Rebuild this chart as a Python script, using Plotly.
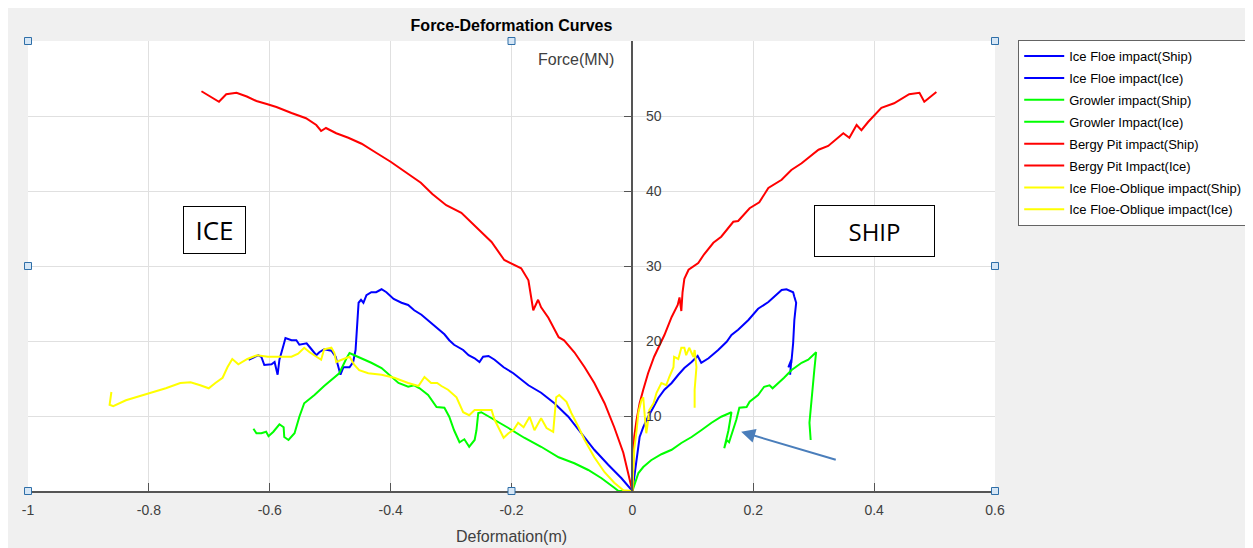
import plotly.graph_objects as go

# ---- data (deformation in m, force in MN) ----
ice_floe_ship_x = [0, 0.007, 0.012, 0.018, 0.026, 0.035, 0.043, 0.053, 0.065, 0.076, 0.086, 0.098,
                   0.108, 0.114, 0.126, 0.142, 0.156, 0.164, 0.175, 0.192, 0.208, 0.225, 0.235,
                   0.247, 0.255, 0.266, 0.268, 0.271, 0.268, 0.266, 0.263, 0.258, 0.263, 0.261]
ice_floe_ship_y = [0, 4.5, 7.2, 8.5, 9.9, 11.2, 12.4, 13.5, 14.4, 15.5, 16.4, 17.2,
                   18.0, 17.1, 17.7, 18.8, 19.9, 20.8, 21.5, 22.8, 24.3, 25.2, 25.9,
                   26.8, 26.9, 26.5, 25.9, 25.1, 22.8, 19.7, 17.1, 16.5, 17.5, 15.5]

ice_floe_ice_x = [-0.635, -0.619, -0.614, -0.609, -0.597, -0.592, -0.587, -0.584, -0.577, -0.574,
                  -0.564, -0.556, -0.551, -0.539, -0.534, -0.523, -0.518, -0.510, -0.498, -0.491,
                  -0.486, -0.483, -0.478, -0.468, -0.462, -0.458, -0.453, -0.449, -0.445, -0.440,
                  -0.432, -0.424, -0.415, -0.407, -0.395, -0.382, -0.371, -0.361, -0.349, -0.333,
                  -0.321, -0.311, -0.303, -0.295, -0.280, -0.271, -0.261, -0.253, -0.247, -0.238,
                  -0.228, -0.213, -0.197, -0.172, -0.151, -0.129, -0.106, -0.084, -0.063, -0.040,
                  -0.018, 0]
ice_floe_ice_y = [17.5, 18.1, 17.9, 16.8, 16.9, 17.2, 15.5, 17.5, 19.5, 20.4,
                  20.1, 20.1, 19.5, 19.7, 19.2, 18.1, 18.5, 18.9, 18.7, 17.9,
                  16.4, 15.5, 16.5, 16.5, 17.2, 18.8, 25.1, 25.5, 25.1, 26.1,
                  26.5, 26.5, 26.9, 26.5, 25.6, 25.1, 24.8, 24.1, 23.5, 22.4,
                  21.7, 20.9, 20.1, 19.5, 18.8, 18.1, 17.7, 17.2, 17.9, 18.0,
                  17.5, 16.5, 15.7, 14.1, 13.1, 11.7, 9.9, 7.7, 5.5, 3.5,
                  1.7, 0]

growler_ship_x = [0, 0.010, 0.018, 0.031, 0.048, 0.065, 0.081, 0.098, 0.114, 0.131, 0.147, 0.164,
                  0.159, 0.152, 0.156, 0.160, 0.167, 0.172, 0.177, 0.189, 0.194, 0.208, 0.218,
                  0.227, 0.232, 0.242, 0.251, 0.263, 0.280, 0.291, 0.304, 0.301, 0.296, 0.293,
                  0.295]
growler_ship_y = [0, 2.4, 3.2, 4.1, 4.9, 5.5, 6.4, 7.2, 8.1, 9.1, 9.9, 10.5,
                  8.1, 5.7, 6.8, 6.5, 8.1, 9.5, 11.1, 11.2, 11.9, 12.8, 13.9,
                  14.1, 13.7, 14.4, 15.1, 16.1, 17.1, 17.5, 18.5, 16.1, 11.7, 9.1,
                  6.8]

growler_ice_x = [-0.627, -0.622, -0.614, -0.606, -0.602, -0.594, -0.584, -0.577, -0.576, -0.569,
                 -0.559, -0.551, -0.543, -0.526, -0.510, -0.495, -0.485, -0.473, -0.468, -0.460,
                 -0.448, -0.432, -0.415, -0.402, -0.387, -0.371, -0.361, -0.352, -0.338, -0.324,
                 -0.311, -0.303, -0.295, -0.286, -0.278, -0.270, -0.261, -0.258, -0.255, -0.250,
                 -0.228, -0.205, -0.179, -0.151, -0.122, -0.096, -0.073, -0.051, -0.031, -0.023, 0]
growler_ice_y = [8.3, 7.7, 7.7, 7.9, 7.3, 7.9, 8.9, 8.5, 7.2, 6.8,
                 7.7, 9.9, 11.7, 12.8, 14.0, 15.1, 15.7, 17.7, 18.4, 18.1,
                 17.7, 17.1, 16.4, 15.5, 14.4, 13.9, 14.1, 13.7, 12.8, 11.2,
                 11.1, 9.9, 8.1, 6.5, 6.9, 5.9, 6.8, 8.1, 10.4, 10.5,
                 9.5, 8.4, 7.1, 5.9, 4.5, 3.7, 2.8, 1.7, 0.5, 0, 0]

bergy_ship_x = [0, 0.003, 0.007, 0.012, 0.018, 0.026, 0.036, 0.048, 0.053, 0.065, 0.075, 0.078,
                0.081, 0.083, 0.086, 0.093, 0.109, 0.119, 0.134, 0.147, 0.167, 0.175, 0.194,
                0.210, 0.225, 0.247, 0.263, 0.280, 0.308, 0.324, 0.349, 0.359, 0.371, 0.379,
                0.390, 0.412, 0.433, 0.458, 0.475, 0.483, 0.503]
bergy_ship_y = [0, 7.2, 9.5, 11.7, 13.5, 15.7, 17.9, 19.9, 20.8, 23.2, 24.8, 25.8,
                24.0, 26.5, 28.3, 29.5, 30.4, 31.6, 33.1, 33.9, 35.9, 36.0, 37.7,
                38.5, 40.4, 41.5, 42.8, 43.7, 45.5, 46.0, 47.7, 47.1, 48.8, 48.1,
                49.2, 51.1, 51.7, 52.9, 53.1, 51.9, 53.2]

bergy_ice_x = [-0.713, -0.697, -0.684, -0.672, -0.655, -0.638, -0.622, -0.605, -0.589, -0.564,
               -0.540, -0.523, -0.515, -0.507, -0.490, -0.470, -0.448, -0.424, -0.400, -0.375,
               -0.350, -0.331, -0.308, -0.283, -0.258, -0.233, -0.212, -0.184, -0.172, -0.164,
               -0.156, -0.151, -0.139, -0.122, -0.113, -0.096, -0.079, -0.063, -0.046, -0.030,
               -0.015, -0.005, 0]
bergy_ice_y = [53.3, 52.5, 51.9, 52.9, 53.1, 52.6, 52.0, 51.6, 51.2, 50.4,
               49.7, 48.8, 48.0, 48.4, 47.7, 47.1, 46.3, 45.1, 43.9, 42.5,
               41.1, 39.6, 38.1, 37.1, 35.2, 33.2, 30.8, 29.7, 28.1, 24.1,
               25.5, 24.5, 23.1, 20.5, 20.1, 18.5, 16.5, 14.4, 11.7, 8.5,
               5.1, 1.5, 0]

oblique_ship_x = [0, 0.002, 0.003, 0.007, 0.010, 0.015, 0.018, 0.020, 0.023, 0.025, 0.028, 0.035,
                  0.040, 0.048, 0.056, 0.061, 0.068, 0.069, 0.076, 0.081, 0.086, 0.089, 0.094,
                  0.101, 0.103, 0.106, 0.103, 0.103]
oblique_ship_y = [0, 2.8, 5.5, 8.1, 10.5, 12.1, 12.5, 10.5, 7.7, 8.8, 10.8, 11.7,
                  13.1, 14.4, 14.1, 15.2, 16.5, 17.9, 17.6, 19.1, 19.1, 18.1, 19.1,
                  17.9, 18.8, 16.5, 13.5, 11.1]

oblique_ice_x = [-0.862, -0.865, -0.859, -0.838, -0.805, -0.772, -0.748, -0.731, -0.715, -0.701,
                 -0.690, -0.678, -0.670, -0.662, -0.652, -0.637, -0.621, -0.603, -0.581, -0.564,
                 -0.553, -0.543, -0.534, -0.515, -0.510, -0.498, -0.493, -0.490, -0.481, -0.473,
                 -0.468, -0.460, -0.452, -0.437, -0.415, -0.394, -0.371, -0.354, -0.344, -0.333,
                 -0.323, -0.316, -0.305, -0.291, -0.280, -0.270, -0.261, -0.233, -0.228, -0.213,
                 -0.205, -0.197, -0.189, -0.180, -0.170, -0.162, -0.151, -0.142, -0.131, -0.126,
                 -0.121, -0.109, -0.101, -0.089, -0.079, -0.063, -0.046, -0.030, -0.015, 0]
oblique_ice_y = [13.2, 11.5, 11.3, 12.1, 12.9, 13.7, 14.4, 14.5, 14.1, 13.7,
                 14.4, 15.1, 16.5, 17.6, 16.9, 17.6, 18.1, 17.9, 17.9, 17.9,
                 18.3, 19.1, 18.5, 17.5, 18.9, 19.1, 18.4, 17.2, 17.5, 17.7,
                 17.9, 16.8, 16.1, 15.7, 15.5, 15.1, 14.4, 14.0, 15.2, 14.4,
                 14.4, 14.0, 13.5, 12.5, 10.5, 10.1, 10.8, 10.8, 9.5, 7.1,
                 7.7, 8.1, 9.1, 8.5, 9.9, 8.1, 9.7, 8.4, 7.9, 12.5,
                 12.8, 11.9, 10.4, 8.5, 6.8, 4.5, 2.5, 1.1, 0.1, 0]

x_ticks = [-1, -0.8, -0.6, -0.4, -0.2, 0, 0.2, 0.4, 0.6]
x_tick_labels = ["-1", "-0.8", "-0.6", "-0.4", "-0.2", "0", "0.2", "0.4", "0.6"]
y_ticks = [10, 20, 30, 40, 50, 60]
y_tick_labels = ["10", "20", "30", "40", "50", ""]

series = [
    ("Ice Floe impact(Ship)", ice_floe_ship_x, ice_floe_ship_y, "#0000ff"),
    ("Ice Floe impact(Ice)", ice_floe_ice_x, ice_floe_ice_y, "#0000ff"),
    ("Growler impact(Ship)", growler_ship_x, growler_ship_y, "#00ff00"),
    ("Growler Impact(Ice)", growler_ice_x, growler_ice_y, "#00ff00"),
    ("Bergy Pit impact(Ship)", bergy_ship_x, bergy_ship_y, "#ff0000"),
    ("Bergy Pit Impact(Ice)", bergy_ice_x, bergy_ice_y, "#ff0000"),
    ("Ice Floe-Oblique impact(Ship)", oblique_ship_x, oblique_ship_y, "#ffff00"),
    ("Ice Floe-Oblique impact(Ice)", oblique_ice_x, oblique_ice_y, "#ffff00"),
]

FONT = "Liberation Sans, Arial, sans-serif"
AXIS_GRAY = "#555555"
LABEL_GRAY = "#404040"

fig = go.Figure()
for i, (name, xs, ys, color) in enumerate(series):
    # one legend group per trace so tracegroupgap spreads the entries like MATLAB
    fig.add_trace(go.Scatter(x=xs, y=ys, mode="lines", name=name, legendgroup=str(i),
                             line=dict(color=color, width=2)))

# text boxes and the arrow drawn on the original figure
box_font = dict(family="Open Sans, sans-serif", size=24, color="#000000")
fig.add_annotation(x=-0.692, y=34.8, text="ICE", showarrow=False,
                   font=dict(family="Open Sans, sans-serif", size=26, color="#000000"),
                   bgcolor="white", bordercolor="#000000", borderwidth=1,
                   width=59, height=44)
fig.add_annotation(x=0.401, y=34.7, text="SHIP", showarrow=False, font=box_font,
                   bgcolor="white", bordercolor="#000000", borderwidth=1,
                   width=117, height=48)
fig.add_annotation(x=0.180, y=7.9, ax=0.339, ay=4.1, axref="x", ayref="y",
                   text="", showarrow=True, arrowhead=2, arrowsize=1.4,
                   arrowwidth=2, arrowcolor="#4a7ebb")

# y label sits at the top left of the origin axis
fig.add_annotation(x=0, y=57.5, xshift=-16, text="Force(MN)", showarrow=False,
                   xanchor="right", font=dict(family=FONT, size=16, color=LABEL_GRAY))

# MATLAB-style selection handles around the axes
for hx, hy in [(0, 1), (0.5, 1), (1, 1), (0, 0.5), (1, 0.5), (0, 0), (0.5, 0), (1, 0)]:
    fig.add_shape(type="rect", xref="paper", yref="paper",
                  xsizemode="pixel", ysizemode="pixel", xanchor=hx, yanchor=hy,
                  x0=-3.5, x1=3.5, y0=-3.5, y1=3.5,
                  line=dict(color="#2f6fa8", width=1), fillcolor="#d6e6f5")

fig.update_layout(
    width=1260, height=548,
    margin=dict(l=20, r=273, t=33, b=65),
    paper_bgcolor="#f0f0f0",
    plot_bgcolor="white",
    font=dict(family=FONT, size=14, color=LABEL_GRAY),
    title=dict(text="<b>Force-Deformation Curves</b>", xref="paper", x=0.5, xanchor="center",
               y=0.969, yanchor="middle",
               font=dict(family=FONT, size=16, color="#000000")),
    legend=dict(x=1.024, y=1.002, xanchor="left", yanchor="top",
                bgcolor="white", bordercolor="#646464", borderwidth=1,
                font=dict(family=FONT, size=13, color="#000000"),
                itemwidth=40, tracegroupgap=2),
    xaxis=dict(range=[-1, 0.6], tickvals=x_ticks, ticktext=x_tick_labels,
               showgrid=True, gridcolor="#e0e0e0", gridwidth=1,
               zeroline=False, showline=True, linecolor=AXIS_GRAY, linewidth=1.5,
               ticks="inside", ticklen=8, tickcolor=AXIS_GRAY,
               ticklabelstandoff=5,
               tickfont=dict(size=14, color=LABEL_GRAY),
               title=dict(text="Deformation(m)", standoff=14,
                          font=dict(size=16, color=LABEL_GRAY))),
    yaxis=dict(range=[0, 60], tickvals=y_ticks, ticktext=y_tick_labels,
               anchor="free", position=0.625, side="right",
               showgrid=True, gridcolor="#e0e0e0", gridwidth=1,
               zeroline=False, showline=True, linecolor=AXIS_GRAY, linewidth=1.5,
               ticks="inside", ticklen=8, tickcolor=AXIS_GRAY,
               ticklabelstandoff=10,
               tickfont=dict(size=14, color=LABEL_GRAY)),
    showlegend=True,
)

fig.write_html("out.html")
